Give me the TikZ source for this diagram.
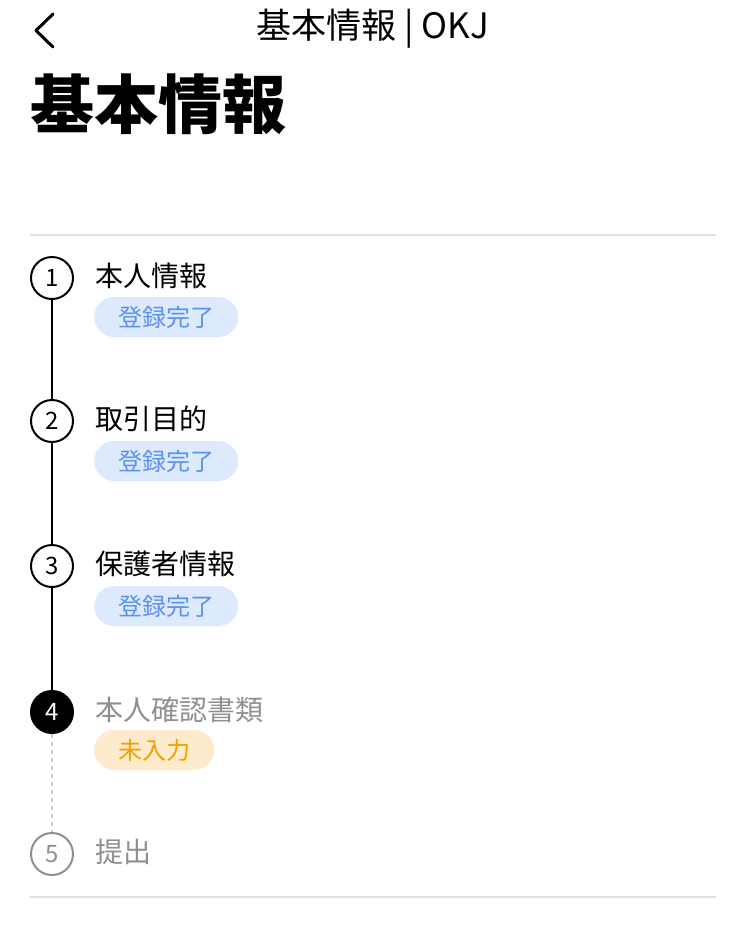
\documentclass[tikz,border=0pt]{standalone}
\usepackage{fontspec}
\setmainfont{Noto Sans CJK JP}
\usetikzlibrary{shapes.misc}
\definecolor{badgeblue}{HTML}{DDE9FC}
\definecolor{textblue}{HTML}{5A92EC}
\definecolor{badgeorange}{HTML}{FDEBCB}
\definecolor{textorange}{HTML}{F5A000}
\definecolor{sepgray}{HTML}{E0E0E0}
\definecolor{labgray}{HTML}{8F8F8F}
\definecolor{dashgray}{HTML}{CCCCCC}
\begin{document}
\begin{tikzpicture}[x=1pt,y=-1pt,
  stepcirc/.style={circle,draw=black,line width=2pt,minimum size=42pt,inner sep=0pt,font=\fontsize{24pt}{26pt}\selectfont},
  steplabel/.style={anchor=west,inner sep=0pt,font=\fontsize{28pt}{32pt}\selectfont},
  donebadge/.style={rounded rectangle,fill=badgeblue,text=textblue,minimum width=144pt,minimum height=40pt,inner sep=0pt,anchor=west,font=\fontsize{24pt}{28pt}\selectfont},
  todobadge/.style={rounded rectangle,fill=badgeorange,text=textorange,minimum width=120pt,minimum height=40pt,inner sep=0pt,anchor=west,font=\fontsize{24pt}{28pt}\selectfont},
  sep/.style={draw=sepgray,line width=1.6pt},
  doneline/.style={draw=black,line width=2pt},
  todoline/.style={draw=dashgray,line width=1.6pt,dash pattern=on 4pt off 4pt}]
\useasboundingbox (0,0) rectangle (748,930);
\fill[white] (0,0) rectangle (748,930);
% header
\coordinate (chA) at (53,14);
\coordinate (chB) at (36,30.5);
\coordinate (chC) at (53,47);
\draw[line width=3pt,line cap=round,line join=round] (chA) -- (chB) -- (chC);
\node[inner sep=0pt,font=\fontsize{35pt}{38pt}\selectfont] (hdr) at (373,29) {基本情報 | OKJ};
\node[inner sep=0pt,anchor=west,font=\fontsize{64pt}{70pt}\selectfont\bfseries] (title) at (30,104) {基本情報};
% separators
\coordinate (s1a) at (30,235);
\coordinate (s1b) at (716,235);
\coordinate (s2a) at (30,897);
\coordinate (s2b) at (716,897);
\draw[sep] (s1a) -- (s1b);
\draw[sep] (s2a) -- (s2b);
% steps
\node[stepcirc] (c1) at (52,278) {1};
\node[stepcirc] (c2) at (52,421) {2};
\node[stepcirc] (c3) at (52,566) {3};
\node[stepcirc,fill=black,text=white] (c4) at (52,712) {4};
\node[stepcirc,draw=labgray,text=labgray] (c5) at (52,854) {5};
\draw[doneline] (c1.south) -- (c2.north);
\draw[doneline] (c2.south) -- (c3.north);
\draw[doneline] (c3.south) -- (c4.north);
\draw[todoline] (c4.south) -- (c5.north);
\node[steplabel] (l1) at (95,276) {本人情報};
\node[steplabel] (l2) at (95,419) {取引目的};
\node[steplabel] (l3) at (95,564) {保護者情報};
\node[steplabel,text=labgray] (l4) at (95,710) {本人確認書類};
\node[steplabel,text=labgray] (l5) at (95,852) {提出};
\node[donebadge] (b1) at (94,317) {登録完了};
\node[donebadge] (b2) at (94,461) {登録完了};
\node[donebadge] (b3) at (94,606) {登録完了};
\node[todobadge] (b4) at (94,750) {未入力};
\end{tikzpicture}
\end{document}
